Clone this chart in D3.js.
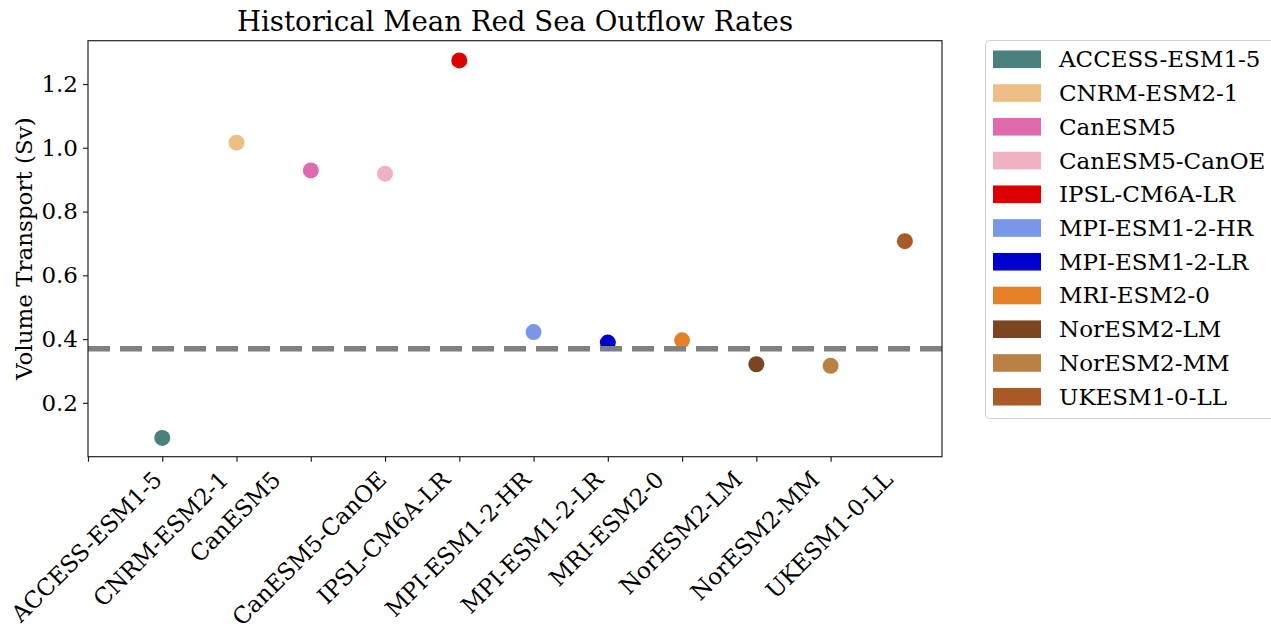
<!DOCTYPE html>
<html>
<head>
<meta charset="utf-8">
<script src="https://cdn.jsdelivr.net/npm/d3@7"></script>
<style>
  body { margin: 0; background: #fff; }
  svg text { font-family: "DejaVu Serif", serif; fill: #000; }
</style>
</head>
<body>
<svg width="1271" height="624"></svg>
<script>
let models = ["ACCESS-ESM1-5", "CNRM-ESM2-1", "CanESM5", "CanESM5-CanOE", "IPSL-CM6A-LR",
  "MPI-ESM1-2-HR", "MPI-ESM1-2-LR", "MRI-ESM2-0", "NorESM2-LM", "NorESM2-MM", "UKESM1-0-LL"];
let outflow = [0.09, 1.016, 0.929, 0.919, 1.274, 0.422, 0.389, 0.396, 0.321, 0.316, 0.707];
let colors = ["#4a817c", "#edbe86", "#e06aae", "#eeb2c0", "#dd0000", "#7897e9",
  "#0000cc", "#e68024", "#7a4520", "#ba8145", "#a95a26"];
let obsMean = 0.37;
let yTicks = [0.2, 0.4, 0.6, 0.8, 1.0, 1.2];
// tick positions are one step left of the points (labels shifted, as in the original)
let xTicks = d3.range(-1, 10);

let svg = d3.select("svg");
let m = {left: 88, right: 942, top: 40.7, bottom: 456.7};
let fs = 23;

let x = d3.scaleLinear().domain([-1, 10.5]).range([m.left, m.right]);
let y = d3.scaleLinear().domain([0.031, 1.336]).range([m.bottom, m.top]);

// points
svg.append("g")
  .selectAll("circle")
  .data(outflow)
  .enter().append("circle")
  .attr("cx", (d, i) => x(i))
  .attr("cy", d => y(d))
  .attr("r", 8)
  .attr("fill", (d, i) => colors[i]);

// observed mean line
svg.append("line")
  .attr("x1", x(-1)).attr("x2", x(10.5))
  .attr("y1", y(obsMean)).attr("y2", y(obsMean))
  .attr("stroke", "#808080")
  .attr("stroke-width", 5.5)
  .attr("stroke-dasharray", "22,10");

// frame
svg.append("rect")
  .attr("x", m.left).attr("y", m.top)
  .attr("width", m.right - m.left).attr("height", m.bottom - m.top)
  .attr("fill", "none").attr("stroke", "#222").attr("stroke-width", 1.2);

// y axis
let yAxis = svg.append("g")
  .attr("transform", `translate(${m.left},0)`)
  .call(d3.axisLeft(y).tickValues(yTicks).tickFormat(d3.format(".1f")).tickSize(5).tickPadding(5));
yAxis.select(".domain").remove();
yAxis.selectAll("line").attr("stroke", "#222").attr("stroke-width", 1.2);
yAxis.selectAll("text").style("font-size", fs + "px").attr("font-family", null);

// x axis
let xAxis = svg.append("g")
  .attr("transform", `translate(0,${m.bottom})`)
  .call(d3.axisBottom(x).tickValues(xTicks).tickFormat("").tickSize(5));
xAxis.select(".domain").remove();
xAxis.selectAll("line").attr("stroke", "#222").attr("stroke-width", 1.2);

// rotated tick labels, bbox centered on the tick
let asc = 0.76 * fs, desc = 0.24 * fs;
let c = Math.cos(-Math.PI / 4), s = Math.sin(-Math.PI / 4);
let xl = svg.append("g");
xTicks.forEach((t, i) => {
  let txt = xl.append("text")
    .attr("text-anchor", "end")
    .style("font-size", fs + "px")
    .text(models[i]);
  let w = txt.node().getComputedTextLength();
  let pts = [[-w, -asc], [0, -asc], [-w, desc], [0, desc]]
    .map(p => [p[0] * c - p[1] * s, p[0] * s + p[1] * c]);
  let minX = d3.min(pts, p => p[0]), maxX = d3.max(pts, p => p[0]);
  let minY = d3.min(pts, p => p[1]);
  let tx = x(t) - (minX + maxX) / 2;
  let ty = m.bottom + 12 - minY;
  txt.attr("transform", `translate(${tx},${ty}) rotate(-45)`);
});

// axis label
svg.append("text")
  .attr("transform", `translate(32,${(m.top + m.bottom) / 2}) rotate(-90)`)
  .attr("text-anchor", "middle")
  .style("font-size", fs + "px")
  .text("Volume Transport (Sv)");

// title
svg.append("text")
  .attr("x", (m.left + m.right) / 2)
  .attr("y", 31)
  .attr("text-anchor", "middle")
  .style("font-size", "27.6px")
  .text("Historical Mean Red Sea Outflow Rates");

// legend
let lg = svg.append("g");
lg.append("rect")
  .attr("x", 985.5).attr("y", 40.5)
  .attr("width", 300).attr("height", 378)
  .attr("rx", 4)
  .attr("fill", "#fff").attr("stroke", "#d0d0d0");
let item = lg.selectAll("g.item")
  .data(models)
  .enter().append("g")
  .attr("class", "item")
  .attr("transform", (d, i) => `translate(0,${59.3 + i * 33.74})`);
item.append("rect")
  .attr("x", 993).attr("y", -8.8)
  .attr("width", 48).attr("height", 17.6)
  .attr("fill", (d, i) => colors[i]);
item.append("text")
  .attr("x", 1059).attr("y", 8)
  .style("font-size", fs + "px")
  .text(d => d);
</script>
</body>
</html>
